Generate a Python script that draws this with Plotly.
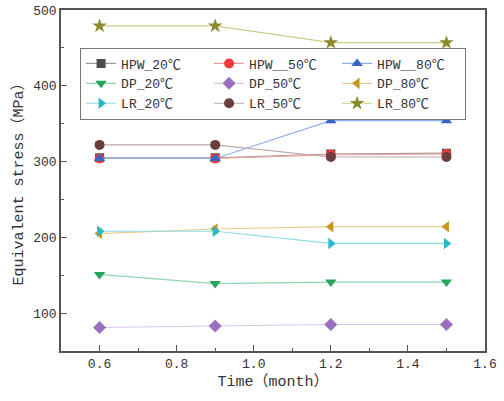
import plotly.graph_objects as go

months = [0.6, 0.9, 1.2, 1.5]

hpw_20 = [305, 305, 310, 311]
hpw_50 = [304, 304, 309, 310]
hpw_80 = [304, 304, 354, 354]
dp_20 = [151, 139, 141, 141]
dp_50 = [81, 83, 85, 85]
dp_80 = [205, 211, 214, 214]
lr_20 = [208, 208, 192, 192]
lr_50 = [322, 322, 306, 306]
lr_80 = [479, 479, 457, 457]

names = ["HPW_20℃", "HPW__50℃", "HPW__80℃",
         "DP_20℃", "DP_50℃", "DP_80℃",
         "LR_20℃", "LR_50℃", "LR_80℃"]
series = [hpw_20, hpw_50, hpw_80, dp_20, dp_50, dp_80, lr_20, lr_50, lr_80]
marker_colors = ["#4d4d4d", "#f2393b", "#3366c6", "#27a55a", "#9a6fc0",
                 "#c8961e", "#2ab9c9", "#6b3d3d", "#8a8a2a"]
line_colors = ["#9a9a9a", "#f59a9a", "#8fb0e6", "#8fd6ac", "#d9c4ea",
               "#e6cd8f", "#8fdde6", "#bfa6a6", "#cbcb8a"]
symbols = ["square", "circle", "triangle-up", "triangle-down", "diamond",
           "triangle-left", "triangle-right", "circle", "star"]
sizes = [9, 10, 10, 10, 10, 10, 10, 10, 11]

FONT = "Liberation Mono, Noto Sans CJK SC, monospace"

fig = go.Figure()
for name, ys, mc, lc, sym, sz in zip(names, series, marker_colors, line_colors, symbols, sizes):
    fig.add_trace(go.Scatter(
        x=months, y=ys, name=name, mode="lines+markers",
        line=dict(color=lc, width=1.2),
        marker=dict(color=mc, symbol=sym, size=sz, line=dict(width=0)),
    ))

axis_common = dict(
    showline=True, linecolor="#555555", linewidth=1.5, mirror=True,
    ticks="inside", ticklen=6, tickcolor="#555555", tickwidth=1,
    showgrid=False, zeroline=False, automargin=False,
    tickfont=dict(family=FONT, size=13, color="#333333"),
)

fig.update_xaxes(
    range=[0.5, 1.6], tickvals=[0.6, 0.8, 1.0, 1.2, 1.4, 1.6],
    ticktext=["0.6", "0.8", "1.0", "1.2", "1.4", "1.6"],
    minor=dict(ticks="inside", ticklen=3, dtick=0.1, tick0=0.5, tickcolor="#555555"),
    title=dict(text="Time（month）", font=dict(family=FONT, size=15, color="#333333"), standoff=4),
    **axis_common,
)
fig.update_yaxes(
    range=[50, 500], tickvals=[100, 200, 300, 400, 500],
    minor=dict(ticks="inside", ticklen=3, dtick=50, tick0=50, tickcolor="#555555"),
    title=dict(text="Equivalent stress（MPa）", font=dict(family=FONT, size=15, color="#333333"), standoff=6),
    **axis_common,
)

fig.update_layout(
    width=504, height=401,
    margin=dict(l=61, r=19, t=10, b=50),
    plot_bgcolor="white", paper_bgcolor="white",
    legend=dict(
        orientation="h", x=0.045, y=0.89, xanchor="left", yanchor="top",
        entrywidth=83, entrywidthmode="pixels",
        bordercolor="#777777", borderwidth=1, bgcolor="white",
        font=dict(family=FONT, size=13, color="#333333"),
        tracegroupgap=0,
    ),
)

fig.write_html("out.html", config={"displayModeBar": False},
               post_script="document.body.style.margin='0';")
